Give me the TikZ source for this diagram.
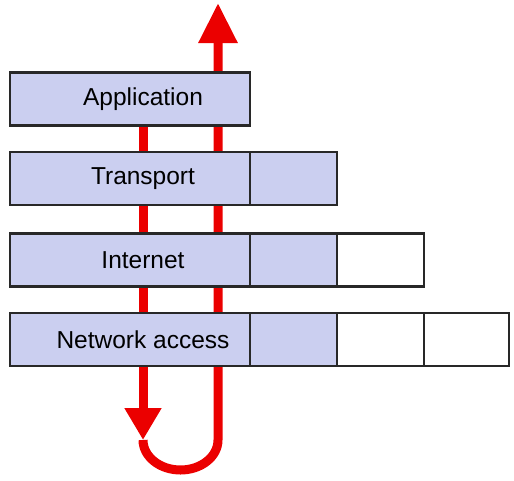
\documentclass[tikz,border=0pt]{standalone}
\usepackage{fontspec}
\setmainfont{Liberation Sans}
\usetikzlibrary{positioning,arrows.meta}

\definecolor{layerfill}{RGB}{203,207,240}
\definecolor{layerline}{RGB}{40,40,40}
\definecolor{flowred}{RGB}{235,0,0}

\tikzset{
  layer/.style={draw=layerline, line width=2.3pt, fill=layerfill,
    minimum width=240pt, minimum height=53pt, inner sep=0pt, outer sep=0pt,
    font=\fontsize{24.5}{28}\selectfont, execute at begin node={\hspace*{26pt}}},
  headercell/.style={draw=layerline, line width=2.3pt, fill=layerfill,
    minimum width=87pt, minimum height=53pt, inner sep=0pt, outer sep=0pt},
  datacell/.style={headercell, fill=white},
  flow/.style={draw=flowred, line width=9pt}
}

\begin{document}
\begin{tikzpicture}[x=1pt,y=-1pt]
    \useasboundingbox (0,0) rectangle (514,480);

    % red path through the stack
    \coordinate (down start) at (143,110);
    \coordinate (down tip) at (143,440);
    \coordinate (up tip) at (218,3);
    \draw[flow, -{Triangle[length=32pt,width=35pt]}] (down start) -- (down tip);
    \draw[flow, -{Triangle[length=40pt,width=37pt]}] (down tip)
        arc[start angle=180, end angle=360, x radius=37.5pt, y radius=30pt]
        -- (up tip);

    % layers
    \node[layer] (app) at (130,99) {Application};
    \node[layer] (trans) at (130,178.5) {Transport};
    \node[headercell, right=0pt of trans] (trans hdr) {};
    \node[layer] (inet) at (130,260) {Internet};
    \node[headercell, right=0pt of inet] (inet hdr) {};
    \node[datacell, right=0pt of inet hdr] (inet data) {};
    \node[layer] (net) at (130,339.5) {Network access};
    \node[headercell, right=0pt of net] (net hdr) {};
    \node[datacell, right=0pt of net hdr] (net data) {};
    \node[datacell, right=0pt of net data, minimum width=85pt] (net pad) {};
\end{tikzpicture}
\end{document}
